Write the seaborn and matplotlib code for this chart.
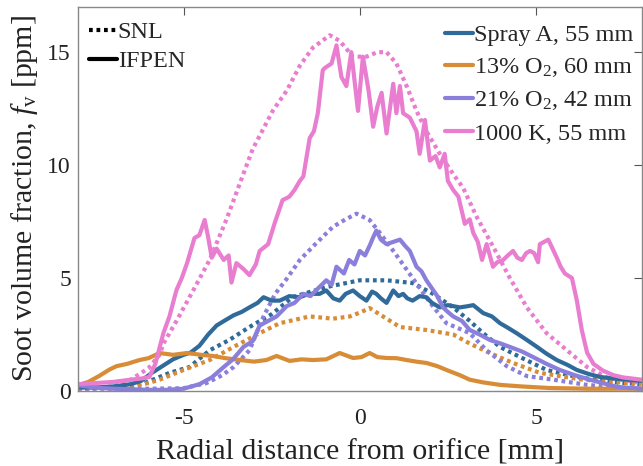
import numpy as np
import pandas as pd
import seaborn as sns
import matplotlib
matplotlib.use("Agg")
import matplotlib.pyplot as plt
from matplotlib.lines import Line2D

# ---- radial soot profiles (x: radial distance [mm], fv: soot volume fraction [ppm]) ----
spray_a_ifpen_x = [-8, -7.5, -7, -6.5, -6.2, -5.9, -5.6, -5.3, -5.0, -4.8, -4.55, -4.3, -4.06, -3.85, -3.58,
                   -3.35, -3.13, -2.9, -2.73, -2.5, -2.27, -2.0, -1.7, -1.45, -1.14, -0.95, -0.75, -0.57, -0.4,
                   -0.19, 0, 0.19, 0.35, 0.47, 0.6, 0.76, 0.95, 1.1, 1.23, 1.35, 1.5, 1.7, 1.89, 2.05, 2.27, 2.5,
                   2.84, 3.05, 3.22, 3.5, 3.75, 3.98, 4.2, 4.45, 4.75, 5.03, 5.3, 5.59, 5.9, 6.16, 6.5, 6.82, 7.2,
                   7.6, 8]
spray_a_ifpen_y = [0.15, 0.15, 0.2, 0.3, 0.45, 0.8, 1.1, 1.4, 1.6, 1.7, 2.0, 2.5, 2.9, 3.1, 3.35,
                   3.5, 3.7, 3.9, 4.15, 4.0, 4.0, 4.2, 4.15, 4.3, 4.3, 4.45, 4.1, 4.0, 4.3,
                   4.45, 4.2, 4.0, 4.4, 4.3, 4.1, 3.9, 4.45, 4.2, 4.3, 4.1, 4.0, 4.2, 4.15, 3.9, 3.7, 3.8,
                   3.7, 3.75, 3.8, 3.45, 3.3, 3.0, 2.8, 2.56, 2.25, 1.95, 1.65, 1.37, 1.15, 0.93, 0.75, 0.62, 0.55,
                   0.5, 0.45]

spray_a_snl_x = [-8, -7, -6.5, -6.1, -5.4, -4.83, -4.26, -3.7, -3.13, -2.5, -1.9, -0.95, 0, 0.76, 1.5, 2.08,
                 2.65, 3.12, 3.5, 3.98, 4.55, 5.3, 6.16, 7.1, 8]
spray_a_snl_y = [0.1, 0.15, 0.2, 0.35, 0.8, 1.06, 1.8, 2.26, 2.83, 3.4, 4.16, 4.6, 4.9, 4.9, 4.78, 4.3,
                 3.7, 3.1, 2.56, 1.95, 1.5, 0.93, 0.62, 0.4, 0.3]

o2_13_ifpen_x = [-8, -7.7, -7.4, -7.1, -6.9, -6.6, -6.25, -6.0, -5.68, -5.3, -4.9, -4.5, -4.17, -3.8, -3.4,
                 -3.0, -2.65, -2.36, -1.99, -1.65, -1.33, -0.95, -0.57, -0.19, 0.05, 0.28, 0.5, 0.76, 1.05,
                 1.33, 1.6, 1.89, 2.2, 2.46, 2.84, 3.12, 3.5, 3.98, 4.6, 5.4, 6.5, 8]
o2_13_ifpen_y = [0.25, 0.4, 0.66, 0.95, 1.1, 1.2, 1.37, 1.45, 1.68, 1.6, 1.68, 1.6, 1.55, 1.45, 1.37,
                 1.3, 1.37, 1.55, 1.33, 1.4, 1.37, 1.4, 1.68, 1.46, 1.5, 1.68, 1.5, 1.46, 1.45,
                 1.37, 1.3, 1.24, 1.1, 0.93, 0.7, 0.5, 0.38, 0.27, 0.2, 0.13, 0.1, 0.1]

o2_13_snl_x = [-8, -7, -6.5, -6.0, -5.68, -5.0, -4.26, -3.58, -2.84, -2.27, -1.42, -0.76, -0.28, 0.05, 0.28,
               0.66, 1.14, 1.89, 2.65, 3.12, 3.69, 4.35, 5.11, 6.33, 7.2, 8]
o2_13_snl_y = [0.1, 0.15, 0.2, 0.35, 0.5, 0.93, 1.37, 1.95, 2.56, 3.0, 3.3, 3.2, 3.3, 3.5, 3.67,
               3.3, 2.83, 2.7, 2.5, 2.1, 1.68, 1.24, 0.8, 0.5, 0.4, 0.3]

o2_21_ifpen_x = [-8, -7.5, -7, -6.5, -6, -5.5, -5.0, -4.55, -4.2, -3.86, -3.6, -3.3, -3.04, -2.84, -2.6,
                 -2.36, -2.07, -1.85, -1.6, -1.4, -1.23, -0.95, -0.8, -0.66, -0.45, -0.3, -0.15, 0, 0.15,
                 0.3, 0.38, 0.47, 0.6, 0.76, 0.95, 1.14, 1.3, 1.42, 1.61, 1.75, 1.89, 2.08, 2.2, 2.36, 2.5,
                 2.65, 2.9, 3.12, 3.4, 3.69, 4.0, 4.26, 4.6, 4.92, 5.3, 5.68, 6.1, 6.53, 7.3, 8]
o2_21_ifpen_y = [0.25, 0.15, 0.1, 0.08, 0.05, 0.05, 0.1, 0.3, 0.6, 1.06, 1.4, 1.95, 2.2, 2.9, 3.1,
                 3.3, 3.76, 3.9, 4.3, 4.2, 4.47, 4.9, 4.7, 5.5, 5.2, 5.8, 5.6, 6.2, 6.0,
                 6.5, 6.8, 7.1, 6.7, 6.5, 6.6, 6.7, 6.4, 6.2, 5.5, 5.3, 4.9, 4.47, 4.2, 3.7, 3.5,
                 3.3, 3.1, 2.7, 2.5, 2.26, 2.1, 1.95, 1.75, 1.5, 1.2, 0.93, 0.7, 0.5, 0.18, 0.1]

o2_21_snl_x = [-8, -7, -6, -5, -4.35, -3.9, -3.58, -3.13, -2.73, -2.4, -2.08, -1.7, -1.23, -0.76, -0.4,
               -0.09, 0.28, 0.57, 1.0, 1.5, 2.0, 2.46, 3.12, 3.6, 4.17, 4.74, 5.49, 6.45, 7.3, 8]
o2_21_snl_y = [0.1, 0.1, 0.1, 0.12, 0.35, 0.7, 1.06, 1.8, 3.3, 4.3, 4.95, 5.8, 6.55, 7.27, 7.6,
               7.85, 7.57, 7.0, 6.1, 5.0, 3.9, 3.0, 2.56, 1.8, 1.1, 0.66, 0.5, 0.27, 0.15, 0.1]

k1000_ifpen_x = [-8, -7.5, -7, -6.5, -6.2, -5.97, -5.8, -5.57, -5.4, -5.2, -5.05, -4.9, -4.69, -4.55, -4.4,
                 -4.3, -4.2, -4.06, -3.86, -3.72, -3.64, -3.5, -3.3, -3.13, -2.95, -2.84, -2.6, -2.4, -2.19,
                 -2.0, -1.85, -1.7, -1.6, -1.42, -1.3, -1.19, -1.05, -0.99, -0.8, -0.66, -0.52, -0.38, -0.24,
                 -0.05, 0.09, 0.25, 0.38, 0.5, 0.62, 0.76, 0.95, 1.04, 1.14, 1.23, 1.42, 1.61, 1.7, 1.85,
                 1.99, 2.15, 2.27, 2.41, 2.5, 2.65, 2.8, 2.98, 3.12, 3.22, 3.35, 3.47, 3.6, 3.78, 3.9, 4.07,
                 4.2, 4.35, 4.47, 4.6, 4.72, 4.83, 4.95, 5.06, 5.11, 5.23, 5.35, 5.47, 5.59, 5.7, 5.82, 6.02,
                 6.16, 6.3, 6.45, 6.63, 6.9, 7.2, 7.47, 8]
k1000_ifpen_y = [0.3, 0.35, 0.4, 0.5, 0.55, 0.62, 1.2, 2.57, 3.3, 4.47, 5.0, 5.66, 6.77, 6.9, 7.57,
                 6.8, 5.9, 6.3, 5.8, 6.0, 4.8, 5.66, 5.4, 5.13, 5.6, 6.2, 6.5, 7.5, 8.45,
                 8.6, 8.9, 9.3, 9.5, 11.2, 11.5, 12.3, 14.2, 14.3, 14.5, 15.3, 13.9, 13.5, 15.0,
                 12.4, 14.8, 13.3, 11.7, 12.6, 13.2, 11.4, 13.6, 12.3, 13.5, 12.3, 12.1, 11.5, 10.5, 12.0,
                 10.2, 10.4, 9.9, 10.5, 9.3, 8.9, 8.6, 7.4, 7.6, 7.0, 6.6, 5.8, 6.5, 5.5, 5.7, 5.8,
                 6.0, 6.2, 5.9, 5.8, 6.1, 6.2, 6.1, 5.7, 6.5, 6.6, 6.7, 6.3, 5.9, 5.5, 5.2, 5.0,
                 4.0, 2.7, 1.7, 1.2, 0.9, 0.7, 0.6, 0.5]

k1000_snl_x = [-8, -7, -6.5, -6.0, -5.68, -5.57, -5.2, -4.72, -4.26, -3.78, -3.4, -3.04, -2.47, -2.07, -1.7,
               -1.33, -0.85, -0.57, -0.19, 0.19, 0.5, 0.76, 1.04, 1.33, 1.61, 1.89, 2.27, 2.65, 2.93, 3.32,
               3.78, 4.26, 4.74, 5.3, 5.88, 6.45, 7.0, 8]
k1000_snl_y = [0.1, 0.2, 0.5, 1.0, 1.6, 2.1, 3.1, 4.47, 5.8, 7.6, 9.2, 10.7, 12.4, 13.3, 14.4,
               15.2, 15.75, 15.5, 14.8, 14.8, 15.0, 15.0, 14.5, 13.5, 12.4, 11.5, 10.5, 9.6, 9.0, 7.7,
               6.4, 5.0, 3.7, 2.56, 1.8, 1.06, 0.6, 0.35]

conditions = ["Spray A, 55 mm", "13% O$_2$, 60 mm", "21% O$_2$, 42 mm", "1000 K, 55 mm"]
colors = ["#2f6a9a", "#d88c35", "#8a7fdb", "#e97dd0"]
snl_profiles = [(spray_a_snl_x, spray_a_snl_y), (o2_13_snl_x, o2_13_snl_y),
                (o2_21_snl_x, o2_21_snl_y), (k1000_snl_x, k1000_snl_y)]
ifpen_profiles = [(spray_a_ifpen_x, spray_a_ifpen_y), (o2_13_ifpen_x, o2_13_ifpen_y),
                  (o2_21_ifpen_x, o2_21_ifpen_y), (k1000_ifpen_x, k1000_ifpen_y)]

sns.set_theme(style="white")
plt.rcParams["font.family"] = ["Liberation Serif", "DejaVu Serif"]
plt.rcParams["mathtext.fontset"] = "custom"
plt.rcParams["mathtext.rm"] = "Liberation Serif"
plt.rcParams["mathtext.it"] = "Liberation Serif:italic"
plt.rcParams["axes.unicode_minus"] = False

fig = plt.figure(figsize=(6.43, 4.66), dpi=100)
ax = fig.add_axes([0.121, 0.161, 0.877, 0.824])

lw = 3.0
dots = (0.9, 0.9)
for (x, y), c in zip(snl_profiles, colors):
    df = pd.DataFrame({"r": x, "fv": y})
    sns.lineplot(data=df, x="r", y="fv", ax=ax, color=c, lw=lw, sort=False, estimator=None)
    ax.lines[-1].set_dashes(dots)
    ax.lines[-1].set_dash_capstyle("butt")
for (x, y), c in zip(ifpen_profiles, colors):
    df = pd.DataFrame({"r": x, "fv": y})
    sns.lineplot(data=df, x="r", y="fv", ax=ax, color=c, lw=lw, sort=False, estimator=None)

ax.set_xlim(-8, 8)
ax.set_ylim(0, 17)
ax.set_xticks([-5, 0, 5])
ax.set_yticks([0, 5, 10, 15])
ax.tick_params(axis="both", which="both", direction="in", length=6, width=0.8,
               color="#555555", labelsize=17, top=True, right=True, labelcolor="#222222")
ax.tick_params(axis="x", pad=12)
ax.tick_params(axis="y", pad=5)
for s in ax.spines.values():
    s.set_color("#888888")
    s.set_linewidth(1.0)

ax.set_xlabel("Radial distance from orifice [mm]", fontsize=21.5, color="#222222", labelpad=8)
ax.set_ylabel("Soot volume fraction, $f_\\mathrm{v}$ [ppm]", fontsize=21.5, color="#222222", labelpad=5)

# legend: measurement source (line style)
src_handles = [Line2D([], [], color="black", lw=lw, dashes=dots, dash_capstyle="butt"),
               Line2D([], [], color="black", lw=lw)]
leg1 = ax.legend(src_handles, ["SNL", "IFPEN"], loc="upper left", frameon=False, fontsize=17.5,
                 handlelength=1.15, handletextpad=0.05, labelspacing=0.28, borderaxespad=0.3,
                 bbox_to_anchor=(-0.011, 1.007))
ax.add_artist(leg1)

# legend: operating condition (colour)
cond_handles = [Line2D([], [], color=c, lw=lw) for c in colors]
ax.legend(cond_handles, conditions, loc="upper right", frameon=False, fontsize=17.5,
          handlelength=1.15, handletextpad=0.05, labelspacing=0.42, borderaxespad=0.3,
          bbox_to_anchor=(1.015, 1.0))

fig.savefig("out.png", dpi=100)
